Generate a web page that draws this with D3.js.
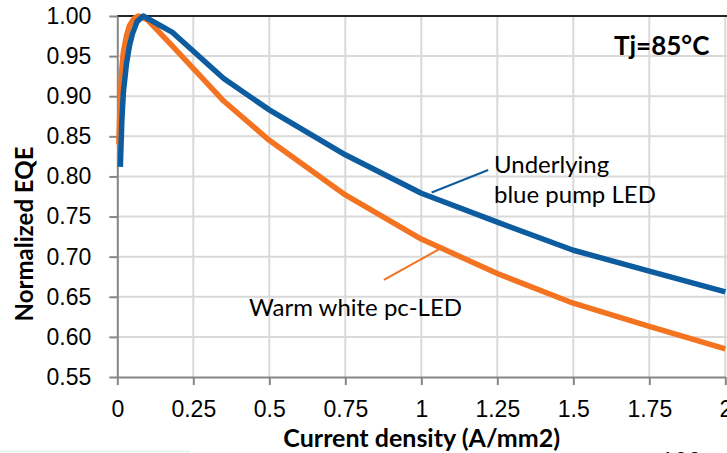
<!DOCTYPE html>
<meta charset="utf-8">
<title>Normalized EQE vs current density</title>
<style>
  body { margin: 0; background: white; }
  svg { display: block; font-family: Lato, sans-serif; background: white; }
  .tick text { font-size: 23px; fill: #000; }
  .grid line { stroke: #d9d9d9; stroke-width: 2px; }
  .axis path, .axis line { stroke: #868686; stroke-width: 2px; }
  .ann { font-size: 24px; fill: #000; }
  .title { font-size: 25px; font-weight: bold; fill: #000; }
</style>
<body>
<div id="chart"></div>
<script src="https://d3js.org/d3.v7.min.js"></script>
<script>

// tick values
var xTicks = [0, 0.25, 0.5, 0.75, 1, 1.25, 1.5, 1.75, 2];
var xTickLabels = ["0", "0.25", "0.5", "0.75", "1", "1.25", "1.5", "1.75", "2"];
var yTicks = [0.55, 0.60, 0.65, 0.70, 0.75, 0.80, 0.85, 0.90, 0.95, 1.00];

// underlying blue pump LED
var blueX = [0.01, 0.015, 0.02, 0.03, 0.04, 0.05, 0.065, 0.085, 0.18, 0.35, 0.5, 0.75, 1.0, 1.25, 1.5, 1.75, 2.0];
var blueY = [0.812, 0.87, 0.905, 0.94, 0.963, 0.978, 0.993, 1.0, 0.980, 0.922, 0.883, 0.827, 0.779, 0.743, 0.708, 0.682, 0.656];

// warm white pc-LED
var orangeX = [0.005, 0.01, 0.015, 0.02, 0.03, 0.04, 0.055, 0.07, 0.1, 0.18, 0.35, 0.5, 0.75, 1.0, 1.25, 1.5, 1.75, 2.0];
var orangeY = [0.84, 0.90, 0.935, 0.955, 0.975, 0.988, 0.997, 1.0, 0.995, 0.963, 0.894, 0.845, 0.777, 0.722, 0.679, 0.642, 0.613, 0.585];

// callout leader lines [x1, y1, x2, y2] in data units
var blueLeader = [1.034, 0.780, 1.22, 0.808];
var orangeLeader = [1.062, 0.710, 0.877, 0.671];

var width = 727, height = 453;

var svg = d3.select("#chart")
  .append("svg")
    .attr("width", width)
    .attr("height", height);

var x = d3.scaleLinear().domain([0, 2]).range([117.3, 725.3]);
var y = d3.scaleLinear().domain([0.55, 1.0]).range([377, 16]);

// gridlines
svg.append("g").attr("class", "grid")
  .selectAll("line")
  .data(yTicks.slice(1, -1))
  .enter().append("line")
    .attr("x1", x(0)).attr("x2", x(2) + 5)
    .attr("y1", function(d) { return y(d); })
    .attr("y2", function(d) { return y(d); });

svg.append("g").attr("class", "grid")
  .selectAll("line")
  .data(xTicks.slice(1))
  .enter().append("line")
    .attr("x1", function(d) { return x(d); })
    .attr("x2", function(d) { return x(d); })
    .attr("y1", y(1.0)).attr("y2", y(0.55));

// top border
svg.append("line")
  .attr("x1", x(0)).attr("x2", x(2) + 5)
  .attr("y1", y(1.0)).attr("y2", y(1.0))
  .attr("stroke", "#262626")
  .attr("stroke-width", 2);

// axes
svg.append("g")
  .attr("class", "axis")
  .attr("transform", "translate(0," + y(0.55) + ")")
  .call(d3.axisBottom(x)
    .tickValues(xTicks)
    .tickFormat(function(d, i) { return xTickLabels[i]; })
    .tickSize(8)
    .tickSizeOuter(0)
    .tickPadding(16));

svg.append("g")
  .attr("class", "axis")
  .attr("transform", "translate(" + x(0) + ",0)")
  .call(d3.axisLeft(y)
    .tickValues(yTicks)
    .tickFormat(d3.format(".2f"))
    .tickSize(8)
    .tickSizeOuter(0)
    .tickPadding(18));

svg.selectAll(".axis .domain").attr("stroke", "#868686").attr("stroke-width", 2);

var line = d3.line()
  .x(function(d) { return x(d[0]); })
  .y(function(d) { return y(d[1]); });

svg.append("path")
  .datum(d3.zip(orangeX, orangeY))
  .attr("d", line)
  .attr("fill", "none")
  .attr("stroke", "#f47320")
  .attr("stroke-width", 5.5)
  .attr("stroke-linejoin", "round");

svg.append("path")
  .datum(d3.zip(blueX, blueY))
  .attr("d", line)
  .attr("fill", "none")
  .attr("stroke", "#0d5c9f")
  .attr("stroke-width", 5.5)
  .attr("stroke-linejoin", "round");

// leaders
svg.append("line")
  .attr("x1", x(blueLeader[0])).attr("y1", y(blueLeader[1]))
  .attr("x2", x(blueLeader[2])).attr("y2", y(blueLeader[3]))
  .attr("stroke", "#0d5c9f").attr("stroke-width", 2);

svg.append("line")
  .attr("x1", x(orangeLeader[0])).attr("y1", y(orangeLeader[1]))
  .attr("x2", x(orangeLeader[2])).attr("y2", y(orangeLeader[3]))
  .attr("stroke", "#f47320").attr("stroke-width", 2);

// labels
svg.append("text").attr("class", "ann").attr("x", 494).attr("y", 173).text("Underlying");
svg.append("text").attr("class", "ann").attr("x", 494).attr("y", 203).text("blue pump LED");
svg.append("text").attr("class", "ann").attr("x", 249).attr("y", 316).text("Warm white pc-LED");

svg.append("text")
  .attr("class", "title")
  .attr("x", 614).attr("y", 55)
  .style("font-size", "26px")
  .text("Tj=85°C");

svg.append("text")
  .attr("class", "title")
  .attr("x", 421.7).attr("y", 447)
  .attr("text-anchor", "middle")
  .text("Current density (A/mm2)");

svg.append("text")
  .attr("class", "title")
  .attr("transform", "translate(33,234) rotate(-90)")
  .attr("text-anchor", "middle")
  .style("font-size", "24px")
  .text("Normalized EQE");

// page number peeking in at the bottom
svg.append("text")
  .attr("class", "ann")
  .attr("x", 660).attr("y", 469)
  .attr("fill", "#222")
  .text("100");

svg.append("line")
  .attr("x1", 0).attr("x2", 190)
  .attr("y1", 451.5).attr("y2", 451.5)
  .attr("stroke", "#e3f3ef").attr("stroke-width", 2);

</script>
</body>
